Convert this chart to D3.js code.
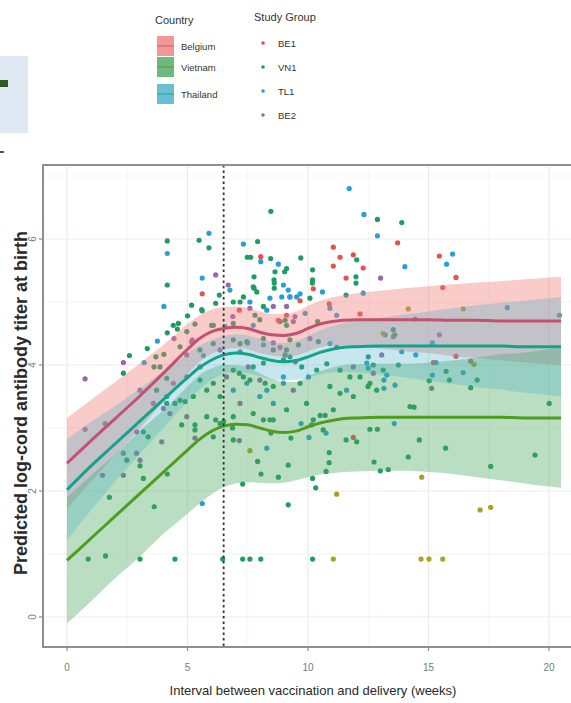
<!DOCTYPE html>
<html>
<head>
<meta charset="utf-8">
<script src="https://cdn.jsdelivr.net/npm/d3@7"></script>
<style>
  body { margin: 0; background: #ffffff; }
  svg { display: block; font-family: "Liberation Sans", Arial, sans-serif; }
</style>
</head>
<body>
<svg id="chart" width="571" height="703"></svg>
<script>
// ---- data ----
const countries = ["Belgium", "Vietnam", "Thailand"];
const study_groups = ["BE1", "VN1", "TL1", "BE2"];
const x_ticks = [0, 5, 10, 15, 20];
const y_ticks = [0, 2, 4, 6];
const cutoff_week = 6.5;

const fit_weeks = [0, 1, 2, 3, 4, 5, 5.5, 6, 6.5, 7, 7.5, 8, 8.5, 9, 9.5, 10, 10.5, 11, 11.5, 12, 13, 14, 15, 16, 17, 18, 19, 20, 20.5];

const belgium_fit = [2.44, 2.8, 3.15, 3.5, 3.87, 4.25, 4.42, 4.53, 4.58, 4.6, 4.58, 4.52, 4.48, 4.47, 4.5, 4.58, 4.65, 4.69, 4.71, 4.72, 4.72, 4.72, 4.72, 4.71, 4.71, 4.7, 4.7, 4.7, 4.7];
const belgium_lo  = [1.72, 2.15, 2.57, 2.98, 3.42, 3.85, 4.05, 4.18, 4.24, 4.27, 4.25, 4.19, 4.15, 4.13, 4.15, 4.22, 4.28, 4.31, 4.31, 4.3, 4.26, 4.22, 4.19, 4.14, 4.11, 4.07, 4.04, 4.01, 4.0];
const belgium_hi  = [3.16, 3.45, 3.73, 4.02, 4.32, 4.65, 4.79, 4.88, 4.92, 4.93, 4.91, 4.85, 4.81, 4.81, 4.85, 4.94, 5.02, 5.07, 5.11, 5.14, 5.18, 5.22, 5.25, 5.28, 5.31, 5.33, 5.36, 5.39, 5.4];

const vietnam_fit = [0.9, 1.25, 1.6, 1.95, 2.3, 2.65, 2.82, 2.95, 3.03, 3.06, 3.05, 3.0, 2.95, 2.93, 2.95, 3.02, 3.08, 3.12, 3.15, 3.16, 3.17, 3.17, 3.17, 3.17, 3.17, 3.17, 3.16, 3.16, 3.16];
const vietnam_lo  = [-0.1, 0.25, 0.62, 0.95, 1.32, 1.64, 1.8, 1.95, 2.06, 2.12, 2.14, 2.13, 2.12, 2.13, 2.17, 2.22, 2.26, 2.28, 2.3, 2.31, 2.32, 2.32, 2.3, 2.27, 2.22, 2.17, 2.12, 2.07, 2.05];
const vietnam_hi  = [1.9, 2.25, 2.58, 2.95, 3.28, 3.66, 3.84, 3.95, 4.0, 4.0, 3.96, 3.87, 3.78, 3.73, 3.73, 3.82, 3.9, 3.96, 4.0, 4.01, 4.02, 4.02, 4.04, 4.07, 4.12, 4.17, 4.2, 4.25, 4.27];

const thailand_fit = [2.02, 2.4, 2.75, 3.1, 3.45, 3.8, 3.96, 4.08, 4.16, 4.19, 4.17, 4.12, 4.07, 4.05, 4.07, 4.13, 4.2, 4.25, 4.28, 4.29, 4.3, 4.3, 4.3, 4.3, 4.3, 4.3, 4.29, 4.29, 4.29];
const thailand_lo  = [1.22, 1.7, 2.15, 2.58, 3.0, 3.42, 3.61, 3.76, 3.86, 3.89, 3.87, 3.82, 3.77, 3.75, 3.76, 3.8, 3.85, 3.88, 3.89, 3.88, 3.85, 3.8, 3.75, 3.7, 3.65, 3.61, 3.56, 3.52, 3.5];
const thailand_hi  = [2.82, 3.1, 3.35, 3.62, 3.9, 4.18, 4.31, 4.4, 4.46, 4.49, 4.47, 4.42, 4.37, 4.35, 4.38, 4.46, 4.55, 4.62, 4.67, 4.7, 4.75, 4.8, 4.85, 4.9, 4.95, 4.99, 5.02, 5.06, 5.08];

// observed titers [weeks, log titer]
const be1_points = [[5.61,5.13],[8.04,5.72],[11.05,5.87],[11.33,5.71],[11.88,5.75],[11.05,5.57],[12.29,5.54],[13.72,5.94],
  [11.58,5.38],[10.22,5.21],[9.67,5.02],[10.88,4.97],[12.16,4.81],[9.11,4.79],[8.77,4.71],[7.15,4.87],[15.45,5.73],
  [16.14,5.39],[15.59,5.23],[16.14,4.14],[15.2,4.04],[16.75,4.06],[11.88,2.85]];

const vn1_points = [[2.34,3.87],[2.59,4.15],[3.33,4.26],[3.69,4.13],[4.02,4.17],[3.61,3.97],[3.86,3.97],[4.16,4.51],
  [4.58,4.57],[4.62,4.66],[5.0,4.78],[5.17,4.95],[5.31,4.65],[5.61,4.86],[6.0,4.63],[6.17,4.98],[6.32,5.11],[4.16,5.27],
  [4.16,5.97],[5.48,5.98],[5.89,5.86],[4.14,3.79],[2.48,2.49],[3.03,2.4],[3.17,2.2],[1.76,1.9],[3.62,1.75],[4.16,2.27],
  [0.88,0.92],[1.6,0.97],[3.03,0.92],[4.48,0.92],[6.46,0.92],[3.17,2.94],[3.37,2.86],[4.76,3.05],[5.31,3.05],[5.31,2.97],
  [6.17,3.13],[6.5,3.1],[4.14,3.39],[4.48,3.39],[4.9,3.42],[7.29,2.11],[7.91,2.47],[8.05,2.27],[8.77,2.22],[9.18,2.41],
  [9.18,1.78],[10.19,2.2],[10.32,2.05],[10.88,2.61],[10.88,2.45],[10.75,2.31],[12.74,2.46],[13.0,2.32],[13.33,2.34],
  [7.29,0.92],[7.59,0.92],[8.04,0.92],[10.19,0.92],[9.29,2.84],[11.58,2.81],[12.02,2.78],[12.57,2.98],[12.88,2.98],
  [6.87,3.0],[8.46,2.92],[8.15,3.13],[8.42,3.13],[10.15,3.05],[10.5,3.2],[10.71,3.2],[14.4,3.33],[14.62,2.81],[14.16,2.54],
  [15.71,2.68],[17.58,2.39],[19.42,2.57],[20.01,3.39],[13.89,6.26],[15.73,3.9],[15.87,3.76],[17.02,3.76],[15.03,3.75],
  [16.75,3.64],[8.46,6.44],[12.88,6.31],[7.91,5.96],[12.02,5.67],[7.48,5.71],[7.62,5.71],[8.45,5.69],[9.7,5.7],[8.63,5.48],
  [7.76,5.4],[8.59,5.35],[10.19,5.51],[10.19,5.35],[11.99,5.4],[11.99,5.3],[7.76,5.22],[11.58,5.11],[8.6,5.3],[8.6,5.22],
  [7.32,5.08],[7.18,5.0],[6.9,5.0],[10.08,5.06],[8.15,4.93],[7.8,4.79],[10.4,4.69],[6.9,4.4],[7.15,3.87],[8.15,4.42],
  [9.25,4.4],[9.6,4.32],[10.43,4.37],[9.05,4.16],[9.25,4.13],[9.74,3.97],[10.36,3.92],[10.78,4.02],[11.33,3.92],[11.74,3.81],
  [12.5,4.13],[12.71,4.0],[13.12,3.92],[8.22,3.71],[8.56,3.66],[7.59,3.76],[10.91,3.66],[12.49,3.66],[9.11,5.53],[7.73,5.24],
  [7.87,5.16],[5.59,4.88],[6.07,4.63],[6.9,4.66],[8.0,4.72],[8.84,4.69],[4.41,4.63],[4.97,4.53],[4.69,4.29],[5.52,4.24],
  [6.07,4.34],[7.18,4.34],[7.46,4.37],[6.9,3.92],[7.32,3.81],[7.73,3.97],[8.15,4.03],[8.56,4.24],[8.98,4.08],[6.35,3.5],
  [6.07,3.71],[5.52,3.76],[3.72,3.6],[4.14,3.5],[4.69,3.44],[5.24,3.5],[5.8,3.6],[5.8,3.18],[6.35,3.07],[6.9,3.18],
  [7.73,3.23],[8.56,3.13],[9.11,3.29],[6.07,2.86],[6.9,2.81],[9.03,5.48],[9.05,4.71],[9.11,4.63],[13.2,4.48],[13.54,4.56],
  [13.6,4.48],[13.75,4.0],[14.23,3.34],[9.11,4.24],[9.67,3.71],[9.94,3.39],[10.22,3.13],[10.63,2.97],[11.05,3.29],
  [11.33,3.55],[11.88,3.5],[12.16,3.81],[12.57,3.71],[12.85,3.6],[10.18,5.3]];

const tl1_points = [[3.2,4.04],[3.75,4.38],[4.02,4.93],[4.16,5.77],[5.89,6.09],[5.61,5.38],[6.56,4.61],[5.61,1.8],
  [11.71,6.8],[12.32,6.39],[12.88,6.05],[7.32,5.92],[8.04,5.64],[8.77,5.6],[8.98,5.27],[10.6,5.16],[8.91,5.08],[9.18,5.19],
  [9.25,5.08],[9.67,5.13],[8.42,5.06],[7.59,5.0],[12.29,5.14],[11.19,4.79],[8.29,4.87],[10.91,4.9],[7.5,4.35],[8.15,4.32],
  [10.91,4.34],[10.02,3.81],[13.27,3.84],[8.98,3.81],[11.6,3.6],[14.02,5.56],[16.0,5.76],[15.75,5.6],[18.27,4.91],
  [20.43,4.79],[15.16,4.35],[13.89,4.21],[14.47,4.16],[15.31,4.04],[15.16,3.84],[16.44,3.88],[8.29,2.68],[10.04,2.85],
  [10.75,2.92],[9.71,3.07],[13.58,3.07],[6.76,5.19],[7.73,4.63],[5.66,4.15],[6.9,3.6],[7.46,3.71],[8.29,3.6],[8.0,3.5],
  [8.56,3.39],[8.98,3.71],[9.53,5.08],[9.88,4.82],[12.44,4.03],[12.5,3.95],[13.15,3.76],[13.15,3.63],[13.61,3.68]];

const be2_points = [[0.75,3.78],[2.34,4.04],[4.44,4.42],[6.17,5.43],[5.2,4.4],[0.75,2.98],[1.58,3.07],[2.34,2.6],
  [2.89,2.6],[1.47,2.25],[2.34,2.25],[3.03,2.49],[3.93,2.78],[5.31,2.84],[4.0,3.31],[2.89,2.94],[7.15,2.8],[13.01,5.38],
  [9.39,4.69],[8.56,4.93],[6.88,4.77],[7.59,4.9],[7.18,4.21],[7.52,3.97],[8.56,4.35],[8.84,4.28],[10.08,4.42],[11.19,4.28],
  [9.48,4.05],[11.88,3.97],[13.54,4.45],[9.39,3.6],[14.44,4.73],[15.45,4.48],[15.13,3.63],[6.69,5.27],[9.11,4.93],
  [5.17,4.37],[4.97,4.16],[6.35,4.24],[6.62,3.81],[7.18,3.39],[8.0,3.76],[4.41,3.71],[4.97,3.81],[5.52,3.97],[3.03,3.6],
  [3.58,3.39],[4.27,3.23],[4.97,3.18],[9.25,5.08],[9.46,4.77],[13.06,4.16],[12.71,3.87]];

// points printed in an olive shade in the source figure (not in its legend)
const olive_points = [[11.19,1.95],[11.05,0.92],[14.72,2.22],[17.14,1.7],[17.58,1.74],[14.69,0.92],[15.02,0.92],
  [15.59,0.92],[14.16,4.89],[16.44,4.89],[16.89,4.01],[13.12,4.5],[7.59,2.64]];

// ---- styling ----
const country_fill = {"Belgium": "#ef7d78", "Vietnam": "#4aa85c", "Thailand": "#45b0c8"};
const country_opacity = {"Belgium": 0.4, "Vietnam": 0.38, "Thailand": 0.3};
const country_line = {"Belgium": "#c4516f", "Vietnam": "#4f9c1f", "Thailand": "#14a38a"};
const group_color = d3.scaleOrdinal().domain(study_groups)
  .range(["#e4514b", "#1f9c62", "#2a9dd6", "#9468ae"]);
const olive_color = "#aaa21e";
const point_r = 2.6;

const panel = {left: 43, right: 586, top: 165, bottom: 647};

const svg = d3.select("#chart");

const x = d3.scaleLinear().domain([0, 20]).range([67, 549]);
const y = d3.scaleLinear().domain([0, 6]).range([617, 239]);

// ---- corner remnants of the cropped figure ----
svg.append("rect").attr("x", 0).attr("y", 56).attr("width", 28).attr("height", 77).attr("fill", "#dfe9f4");
svg.append("rect").attr("x", 0).attr("y", 80).attr("width", 8).attr("height", 7).attr("fill", "#2f5b1f");
svg.append("rect").attr("x", 0).attr("y", 151).attr("width", 4).attr("height", 2).attr("fill", "#555");

// ---- panel and grid ----
const plot = svg.append("g");
plot.append("rect")
  .attr("x", panel.left).attr("y", panel.top)
  .attr("width", panel.right - panel.left).attr("height", panel.bottom - panel.top)
  .attr("fill", "#ffffff");

const minor_x = [2.5, 7.5, 12.5, 17.5];
const minor_y = [1, 3, 5, 7];
plot.selectAll(".gmx").data(minor_x).join("line")
  .attr("x1", d => x(d)).attr("x2", d => x(d))
  .attr("y1", panel.top).attr("y2", panel.bottom)
  .attr("stroke", "#f5f1f1").attr("stroke-width", 0.7);
plot.selectAll(".gmy").data(minor_y).join("line")
  .attr("x1", panel.left).attr("x2", panel.right)
  .attr("y1", d => y(d)).attr("y2", d => y(d))
  .attr("stroke", "#f7efee").attr("stroke-width", 0.7);
plot.selectAll(".gx").data(x_ticks).join("line")
  .attr("x1", d => x(d)).attr("x2", d => x(d))
  .attr("y1", panel.top).attr("y2", panel.bottom)
  .attr("stroke", "#eeeaea").attr("stroke-width", 1.2);
plot.selectAll(".gy").data(y_ticks).join("line")
  .attr("x1", panel.left).attr("x2", panel.right)
  .attr("y1", d => y(d)).attr("y2", d => y(d))
  .attr("stroke", "#f2e9e8").attr("stroke-width", 1.2);

// ---- points (drawn under the ribbons) ----
function drawPoints(pts, color) {
  plot.append("g").selectAll("circle").data(pts).join("circle")
    .attr("cx", d => x(d[0])).attr("cy", d => y(d[1]))
    .attr("r", point_r)
    .attr("fill", color);
}
drawPoints(be2_points, group_color("BE2"));
drawPoints(tl1_points, group_color("TL1"));
drawPoints(vn1_points, group_color("VN1"));
drawPoints(be1_points, group_color("BE1"));
drawPoints(olive_points, olive_color);

// ---- ribbons and fitted lines ----
const fits = {
  "Belgium": {fit: belgium_fit, lo: belgium_lo, hi: belgium_hi},
  "Vietnam": {fit: vietnam_fit, lo: vietnam_lo, hi: vietnam_hi},
  "Thailand": {fit: thailand_fit, lo: thailand_lo, hi: thailand_hi}
};

const area = d3.area()
  .x(d => x(d.w)).y0(d => y(d.lo)).y1(d => y(d.hi))
  .curve(d3.curveMonotoneX);
const line = d3.line()
  .x(d => x(d.w)).y(d => y(d.v))
  .curve(d3.curveMonotoneX);

countries.forEach(c => {
  const rows = fit_weeks.map((w, i) => ({w: w, lo: fits[c].lo[i], hi: fits[c].hi[i]}));
  plot.append("path").datum(rows)
    .attr("d", area)
    .attr("fill", country_fill[c])
    .attr("fill-opacity", country_opacity[c]);
});
countries.forEach(c => {
  const rows = fit_weeks.map((w, i) => ({w: w, v: fits[c].fit[i]}));
  plot.append("path").datum(rows)
    .attr("d", line)
    .attr("fill", "none")
    .attr("stroke", country_line[c])
    .attr("stroke-width", 3);
});

// dotted cut-off line
plot.append("line")
  .attr("x1", x(cutoff_week)).attr("x2", x(cutoff_week))
  .attr("y1", panel.top).attr("y2", panel.bottom)
  .attr("stroke", "#333").attr("stroke-width", 1.8)
  .attr("stroke-dasharray", "2.5,3");

// panel border
plot.append("rect")
  .attr("x", panel.left).attr("y", panel.top)
  .attr("width", panel.right - panel.left).attr("height", panel.bottom - panel.top)
  .attr("fill", "none").attr("stroke", "#8f8f8f").attr("stroke-width", 2);

// ---- axes ----
const axes = svg.append("g").attr("fill", "#7a7a7a").style("font-size", "10px");
axes.selectAll(".tx").data(x_ticks).join("line")
  .attr("x1", d => x(d)).attr("x2", d => x(d))
  .attr("y1", panel.bottom).attr("y2", panel.bottom + 4)
  .attr("stroke", "#8f8f8f").attr("stroke-width", 1.2);
axes.selectAll(".lx").data(x_ticks).join("text")
  .attr("x", d => x(d)).attr("y", 671)
  .attr("text-anchor", "middle")
  .text(d => d);
axes.selectAll(".ty").data(y_ticks).join("line")
  .attr("x1", panel.left - 4).attr("x2", panel.left)
  .attr("y1", d => y(d)).attr("y2", d => y(d))
  .attr("stroke", "#8f8f8f").attr("stroke-width", 1.2);
axes.selectAll(".ly").data(y_ticks).join("text")
  .attr("transform", d => `translate(36,${y(d)}) rotate(-90)`)
  .attr("text-anchor", "middle")
  .text(d => d);

svg.append("text")
  .attr("x", 313).attr("y", 695)
  .attr("text-anchor", "middle")
  .attr("fill", "#2a2a2a")
  .style("font-size", "13px")
  .text("Interval between vaccination and delivery (weeks)");

svg.append("text")
  .attr("transform", "translate(21,403) rotate(-90)")
  .attr("text-anchor", "middle")
  .attr("dominant-baseline", "central")
  .attr("fill", "#2a2a2a")
  .style("font-size", "18px")
  .style("font-weight", "600")
  .text("Predicted log-cord antibody titer at birth");

// ---- legends ----
const leg = svg.append("g").attr("fill", "#333").style("font-size", "9.5px");
leg.append("text").attr("x", 155).attr("y", 24).style("font-size", "11px").text("Country");
const key_y = [36, 57, 84];
countries.forEach((c, i) => {
  leg.append("rect")
    .attr("x", 157).attr("y", key_y[i]).attr("width", 17).attr("height", 20)
    .attr("fill", country_fill[c]).attr("fill-opacity", 0.8);
  leg.append("line")
    .attr("x1", 157).attr("x2", 174)
    .attr("y1", key_y[i] + 10).attr("y2", key_y[i] + 10)
    .attr("stroke", country_line[c]).attr("stroke-width", 1.5).attr("stroke-opacity", 0.6);
  leg.append("text").attr("x", 181).attr("y", key_y[i] + 14).text(c);
});

leg.append("text").attr("x", 254).attr("y", 21).style("font-size", "11px").text("Study Group");
study_groups.forEach((g, i) => {
  const cy = 43 + i * 24;
  leg.append("circle").attr("cx", 263).attr("cy", cy).attr("r", 1.8).attr("fill", group_color(g));
  leg.append("text").attr("x", 278).attr("y", cy + 3.5).text(g);
});
</script>
</body>
</html>
